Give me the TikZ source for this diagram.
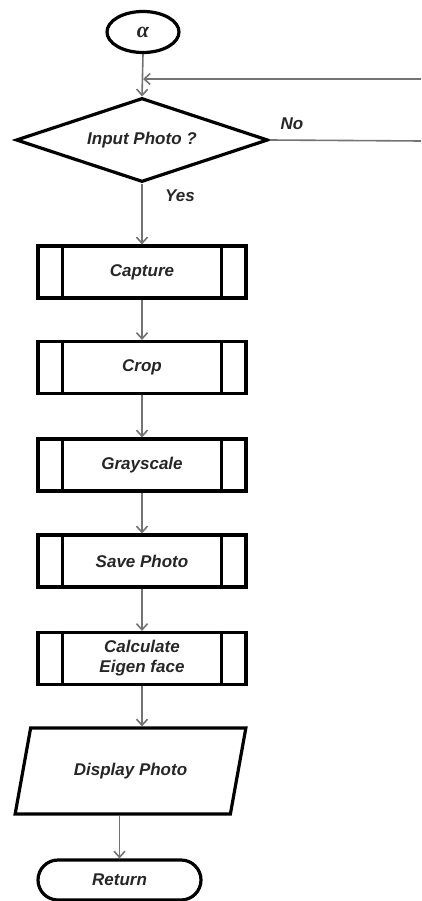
\documentclass[tikz,border=0pt]{standalone}
\usepackage{fontspec}
\setmainfont{Liberation Sans}
\newfontfamily\grkfont{Liberation Serif}
\usetikzlibrary{shapes.geometric,shapes.misc,arrows.meta,calc}
\begin{document}
\begin{tikzpicture}[x=1pt,y=-1pt,
  txt/.style={font=\bfseries\itshape\fontsize{17}{21}\selectfont, text=black!85},
  shp/.style={draw=black, line width=3.2pt, txt, inner sep=0pt},
  predef/.style={shp, rectangle, minimum width=208pt, minimum height=52pt, align=center},
  conn/.style={draw=black!55, line width=1.6pt},
  arr/.style={conn, -{Straight Barb[length=6pt,width=11pt,line width=1.6pt]}},
  lbl/.style={txt}]
\useasboundingbox (0,0) rectangle (421,901);

\node[shp, ellipse, minimum width=72pt, minimum height=41pt] (alpha) at (143,32) {\grkfont\itshape\fontsize{22}{24}\selectfont α};
\node[shp, diamond, aspect=2.95, minimum width=252pt, minimum height=84pt] (dec) at (142,140) {Input Photo ?};
\node[predef] (cap) at (142,272) {Capture};
\node[predef] (crop) at (142,367.5) {Crop};
\node[predef] (gray) at (142,465) {Grayscale};
\node[predef] (save) at (142,561) {Save Photo};
\node[predef] (calc) at (142,658.5) {Calculate\\[-1pt]Eigen face};
\node[shp, trapezium, trapezium left angle=61, trapezium right angle=119, trapezium stretches=true, minimum width=231pt, minimum height=86pt] (disp) at (130.5,771) {Display Photo};
\node[shp, rounded rectangle, minimum width=163pt, minimum height=40pt] (ret) at (119.5,880) {Return};

\foreach \n in {cap,crop,gray,save,calc}{
  \draw[line width=3.2pt] ($(\n.north west)+(26,0)$) -- ($(\n.south west)+(26,0)$);
  \draw[line width=3.2pt] ($(\n.north east)+(-26,0)$) -- ($(\n.south east)+(-26,0)$);
}

\coordinate (fbR) at (421,79);
\coordinate (noR) at (421,141);
\coordinate (fbJ) at (alpha.south |- fbR);

\draw[arr] (alpha.south) -- (dec.north);
\draw[arr] (fbR) -- (fbJ);
\draw[conn] (dec.east) -- (noR);
\node[lbl] (no) at (292,124) {No};
\node[lbl] (yes) at (180,196) {Yes};
\draw[arr] (dec.south) -- (cap.north);
\draw[arr] (cap.south) -- (crop.north);
\draw[arr] (crop.south) -- (gray.north);
\draw[arr] (gray.south) -- (save.north);
\draw[arr] (save.south) -- (calc.north);
\draw[arr] (calc.south) -- (calc.south |- disp.north);
\draw[arr] (disp.south -| ret.north) -- (ret.north);
\end{tikzpicture}
\end{document}
